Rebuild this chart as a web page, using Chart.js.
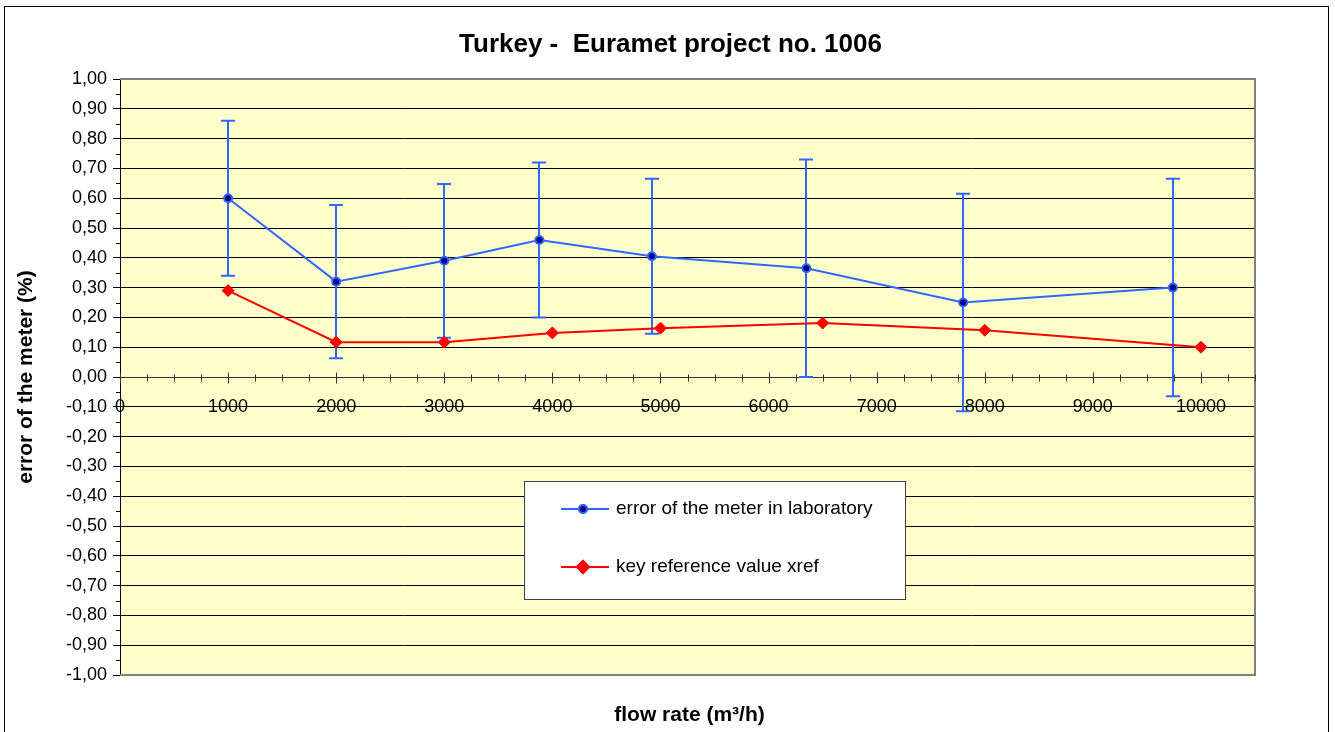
<!DOCTYPE html>
<html>
<head>
<meta charset="utf-8">
<title>Turkey - Euramet project no. 1006</title>
<script src="https://cdn.jsdelivr.net/npm/chart.js@4/dist/chart.umd.min.js"></script>
<style>
    html, body {
        margin: 0;
        padding: 0;
        background: #ffffff;
    }

    #chart-container {
        position: relative;
        width: 1335px;
        height: 732px;
    }

    #frame {
        position: absolute;
        left: 4px;
        top: 6px;
        width: 1323px;
        height: 740px;
        border: 1px solid #000000;
        pointer-events: none;
    }
</style>
</head>
<body>
<div id="chart-container">
    <canvas id="chart" width="1335" height="732"></canvas>
    <div id="frame"></div>
</div>
<script>
// laboratory results (flow rate in m3/h, error in %, expanded uncertainty in %)
const flowLab = [1000, 2000, 3000, 3880, 4920, 6350, 7800, 9740];
const errorLab = [0.60, 0.32, 0.39, 0.46, 0.405, 0.365, 0.25, 0.30];
const uncertaintyLab = [0.26, 0.257, 0.258, 0.26, 0.26, 0.365, 0.365, 0.365];

// key reference values
const flowRef = [1000, 2000, 3000, 4000, 5000, 6500, 8000, 10000];
const xref = [0.29, 0.117, 0.117, 0.148, 0.164, 0.181, 0.157, 0.10];

// axis ticks
const flowTicks = [0, 1000, 2000, 3000, 4000, 5000, 6000, 7000, 8000, 9000, 10000];
const errorTickStep = 0.1;

const seriesLabels = ['error of the meter in laboratory', 'key reference value xref'];
const chartTitle = 'Turkey -  Euramet project no. 1006';
const xAxisTitle = 'flow rate (m\u00B3/h)';
const yAxisTitle = 'error of the meter (%)';

const fontFamily = "'Liberation Sans', Arial, sans-serif";
const blue = '#3366FF';
const navy = '#000080';
const red = '#FF0000';

let chart = undefined;

window.onload = function() {
    createChart();
}

const plotBackground = {
    id: 'plotBackground',
    beforeDraw(chart) {
        const { ctx, chartArea } = chart;
        ctx.save();
        ctx.fillStyle = '#FFFFCC';
        ctx.fillRect(chartArea.left, chartArea.top, chartArea.right - chartArea.left, chartArea.bottom - chartArea.top);
        ctx.restore();
    },
};

// plot border, x axis through zero with minor ticks, y minor ticks, error bars
const axesAndErrorBars = {
    id: 'axesAndErrorBars',
    beforeDatasetsDraw(chart) {
        const { ctx, chartArea, scales } = chart;
        const x = scales.x;
        const y = scales.y;

        ctx.save();

        // grey plot border (top, right, bottom)
        ctx.strokeStyle = '#808080';
        ctx.lineWidth = 2;
        ctx.beginPath();
        ctx.moveTo(chartArea.left, chartArea.top);
        ctx.lineTo(chartArea.right, chartArea.top);
        ctx.lineTo(chartArea.right, chartArea.bottom);
        ctx.lineTo(chartArea.left, chartArea.bottom);
        ctx.stroke();

        // y minor ticks
        ctx.strokeStyle = '#000000';
        ctx.lineWidth = 1;
        ctx.beginPath();
        for (let v = y.min + errorTickStep / 2; v < y.max; v += errorTickStep) {
            const py = Math.round(y.getPixelForValue(v)) + 0.5;
            ctx.moveTo(chartArea.left - 4, py);
            ctx.lineTo(chartArea.left, py);
        }
        ctx.stroke();

        // x axis at zero
        const y0 = Math.round(y.getPixelForValue(0)) + 0.5;
        ctx.strokeStyle = '#333333';
        ctx.beginPath();
        ctx.moveTo(chartArea.left, y0);
        ctx.lineTo(chartArea.right, y0);
        for (let v = 0; v <= x.max; v += 250) {
            const px = Math.round(x.getPixelForValue(v)) + 0.5;
            if (v % 1000 === 0) {
                ctx.moveTo(px, y0 - 5);
                ctx.lineTo(px, y0 + 6);
            } else {
                ctx.moveTo(px, y0 - 3);
                ctx.lineTo(px, y0 + 4);
            }
        }
        ctx.stroke();

        // error bars of the laboratory results
        ctx.strokeStyle = blue;
        ctx.lineWidth = 2;
        ctx.beginPath();
        flowLab.forEach((flow, i) => {
            const px = Math.round(x.getPixelForValue(flow));
            const top = y.getPixelForValue(errorLab[i] + uncertaintyLab[i]);
            const bottom = y.getPixelForValue(errorLab[i] - uncertaintyLab[i]);
            ctx.moveTo(px, top);
            ctx.lineTo(px, bottom);
            ctx.moveTo(px - 7, top);
            ctx.lineTo(px + 7, top);
            ctx.moveTo(px - 7, bottom);
            ctx.lineTo(px + 7, bottom);
        });
        ctx.stroke();

        ctx.restore();
    },
    afterDraw(chart) {
        const { ctx, chartArea } = chart;
        const centerX = (chartArea.left + chartArea.right) / 2;

        ctx.save();
        ctx.fillStyle = '#000000';
        ctx.textAlign = 'center';
        ctx.textBaseline = 'middle';

        // chart title
        ctx.font = `bold 26px ${fontFamily}`;
        ctx.fillText(chartTitle, centerX - 17, 45);

        // x axis title
        ctx.font = `bold 21px ${fontFamily}`;
        ctx.fillText(xAxisTitle, centerX + 2, 715);

        // legend box
        const box = { left: 524, top: 481, width: 381, height: 118 };
        ctx.fillStyle = '#FFFFFF';
        ctx.fillRect(box.left, box.top, box.width, box.height);
        ctx.strokeStyle = '#404040';
        ctx.lineWidth = 1;
        ctx.strokeRect(box.left + 0.5, box.top + 0.5, box.width, box.height);

        const rows = [box.top + 28, box.top + 86];
        chart.data.datasets.forEach((dataset, i) => {
            const rowY = rows[i];
            ctx.strokeStyle = dataset.borderColor;
            ctx.lineWidth = 2;
            ctx.beginPath();
            ctx.moveTo(box.left + 37, rowY);
            ctx.lineTo(box.left + 85, rowY);
            ctx.stroke();

            Chart.helpers.drawPoint(ctx, {
                pointStyle: dataset.pointStyle,
                radius: dataset.pointRadius,
                borderWidth: dataset.pointBorderWidth,
                rotation: 0,
            }, box.left + 59, rowY);
            ctx.fillStyle = dataset.pointBackgroundColor;
            ctx.strokeStyle = dataset.pointBorderColor;
            ctx.fill();
            ctx.stroke();

            ctx.fillStyle = '#000000';
            ctx.font = `19px ${fontFamily}`;
            ctx.textAlign = 'left';
            ctx.textBaseline = 'middle';
            ctx.fillText(dataset.label, box.left + 92, rowY);
        });

        ctx.restore();
    },
};

function formatTick(value) {
    if (Math.abs(value) < 1e-9) {
        value = 0;
    }

    return value.toFixed(2).replace('.', ',');
}

function createChart() {
    const chartCanvas = document.querySelector('#chart');

    chart = new Chart(chartCanvas, {
        type: 'line',
        data: {
            datasets: [
                {
                    label: seriesLabels[0],
                    data: flowLab.map((flow, i) => ({ x: flow, y: errorLab[i] })),
                    borderColor: blue,
                    borderWidth: 2,
                    pointStyle: 'circle',
                    pointRadius: 4,
                    pointBorderWidth: 2,
                    pointBackgroundColor: navy,
                    pointBorderColor: blue,
                    tension: 0,
                    order: 1,
                },
                {
                    label: seriesLabels[1],
                    data: flowRef.map((flow, i) => ({ x: flow, y: xref[i] })),
                    borderColor: red,
                    borderWidth: 2,
                    pointStyle: 'rectRot',
                    pointRadius: 6,
                    pointBorderWidth: 1,
                    pointBackgroundColor: red,
                    pointBorderColor: red,
                    tension: 0,
                    order: 0,
                },
            ],
        },
        options: {
            responsive: false,
            animation: false,
            devicePixelRatio: 1,
            layout: {
                padding: { left: 0, right: 80, top: 79, bottom: 57 },
            },
            plugins: {
                legend: { display: false },
                tooltip: { enabled: false },
                title: { display: false },
            },
            scales: {
                x: {
                    type: 'linear',
                    min: 0,
                    max: 10500,
                    position: { y: 0 },
                    afterBuildTicks: scale => {
                        scale.ticks = flowTicks.map(value => ({ value: value }));
                    },
                    ticks: {
                        autoSkip: false,
                        maxRotation: 0,
                        padding: 19,
                        color: '#000000',
                        font: { family: fontFamily, size: 18 },
                        callback: value => String(value),
                    },
                    grid: { display: false, drawTicks: false },
                    border: { display: false },
                },
                y: {
                    min: -1,
                    max: 1,
                    afterFit: scale => {
                        scale.width = 120;
                    },
                    ticks: {
                        stepSize: errorTickStep,
                        padding: 6,
                        color: '#000000',
                        font: { family: fontFamily, size: 18 },
                        callback: value => formatTick(value),
                    },
                    grid: {
                        color: '#000000',
                        lineWidth: 1,
                        tickLength: 7,
                        tickColor: '#000000',
                    },
                    border: { display: true, color: '#000000', width: 1 },
                    title: {
                        display: true,
                        text: yAxisTitle,
                        color: '#000000',
                        font: { family: fontFamily, size: 21, weight: 'bold' },
                        padding: { top: 14, bottom: 0 },
                    },
                },
            },
        },
        plugins: [plotBackground, axesAndErrorBars],
    });
}
</script>
</body>
</html>
